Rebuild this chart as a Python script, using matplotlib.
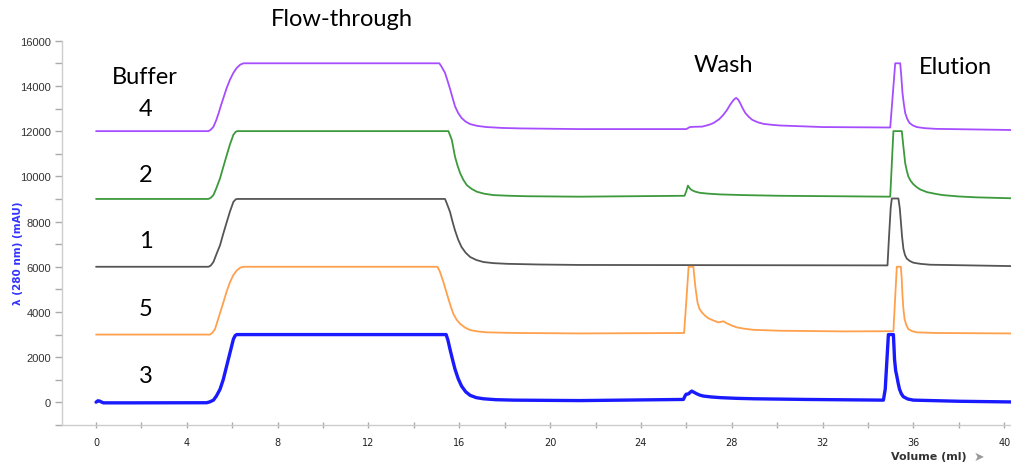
import matplotlib
matplotlib.use("Agg")
import matplotlib.pyplot as plt
from matplotlib.ticker import MultipleLocator

# ---------------- data ----------------
# Buffer 4 (purple, offset 12000)
x4 = [0, 4.95, 5.05, 5.17, 5.3, 5.4, 5.5, 5.61, 5.75, 5.9, 6.05, 6.2, 6.35, 6.49,
      15.12, 15.2, 15.37, 15.5, 15.6, 15.7, 15.81, 15.95, 16.1, 16.28, 16.48, 16.8, 17.2,
      17.9, 18.7, 21.3, 26.0, 26.15, 26.3, 26.7, 27.0, 27.2, 27.45, 27.63, 27.8, 27.93,
      28.08, 28.19, 28.28, 28.37, 28.48, 28.6, 28.75, 28.9, 29.15, 29.4, 29.75, 30.1,
      32.0, 34.98, 35.2, 35.42, 35.47, 35.52, 35.58, 35.64, 35.73, 35.83, 35.98, 36.15,
      36.5, 37.0, 40.3]
y4 = [12000, 12000, 12060, 12190, 12500, 12800, 13130, 13470, 13900, 14280, 14580, 14800,
      14940, 15000, 15000, 14880, 14580, 14170, 13840, 13480, 13100, 12800, 12580, 12420,
      12310, 12230, 12180, 12140, 12120, 12090, 12090, 12180, 12190, 12200, 12280, 12360,
      12530, 12720, 12950, 13170, 13380, 13470, 13400, 13240, 13010, 12800, 12630, 12500,
      12390, 12320, 12280, 12250, 12180, 12160, 15000, 15000, 14400, 13690, 13200, 12800,
      12540, 12360, 12250, 12180, 12130, 12100, 12050]

# Buffer 2 (green, offset 9000)
x2 = [0, 4.95, 5.05, 5.17, 5.3, 5.46, 5.6, 5.76, 5.9, 6.05, 6.15, 6.22, 15.52, 15.58,
      15.67, 15.74, 15.81, 15.92, 16.04, 16.18, 16.33, 16.55, 16.77, 17.1, 17.5, 18.2,
      18.97, 21.3, 25.92, 26.0, 26.07, 26.15, 26.24, 26.4, 26.6, 27.0, 27.5, 28.5, 30.1,
      34.98, 35.12, 35.49, 35.56, 35.64, 35.71, 35.78, 35.88, 36.0, 36.15, 36.3, 36.6,
      37.0, 37.3, 38.0, 38.8, 40.3]
y2 = [9000, 9000, 9050, 9170, 9480, 9910, 10400, 10950, 11420, 11840, 11970, 12000, 12000,
      11850, 11610, 11240, 10870, 10480, 10130, 9840, 9610, 9440, 9320, 9230, 9170, 9140,
      9120, 9100, 9140, 9350, 9590, 9470, 9390, 9320, 9270, 9230, 9200, 9170, 9140, 9100,
      12000, 12000, 11320, 10580, 10250, 9990, 9800, 9650, 9520, 9420, 9300, 9220, 9170,
      9110, 9070, 9030]

# Buffer 1 (grey, offset 6000)
x1 = [0, 4.95, 5.05, 5.17, 5.3, 5.46, 5.6, 5.76, 5.9, 6.05, 6.15, 6.22, 15.37, 15.45,
      15.59, 15.7, 15.81, 15.95, 16.1, 16.28, 16.48, 16.75, 17.06, 17.5, 18.1, 19.5, 21.3,
      34.86, 34.92, 35.0, 35.05, 35.34, 35.4, 35.45, 35.5, 35.56, 35.63, 35.71, 35.85,
      36.0, 36.3, 36.74, 40.3]
y1 = [6000, 6000, 6050, 6210, 6550, 6950, 7450, 7990, 8450, 8870, 8980, 9000, 9000, 8800,
      8430, 8000, 7610, 7200, 6870, 6620, 6430, 6300, 6210, 6160, 6130, 6100, 6080, 6060,
      7200, 8600, 9020, 9020, 8600, 7990, 7350, 6800, 6520, 6360, 6250, 6180, 6130, 6090,
      6030]

# Buffer 5 (orange, offset 3000)
x5 = [0, 5.02, 5.12, 5.24, 5.4, 5.61, 5.75, 5.9, 6.05, 6.2, 6.35, 6.49, 15.04, 15.15,
      15.3, 15.41, 15.52, 15.63, 15.74, 15.88, 16.04, 16.25, 16.48, 16.8, 17.2, 18.0,
      18.68, 21.3, 25.9, 26.0, 26.1, 26.31, 26.39, 26.49, 26.57, 26.68, 26.82, 26.97,
      27.2, 27.41, 27.55, 27.63, 27.78, 28.0, 28.22, 28.55, 28.96, 29.5, 30.13, 33.0,
      35.12, 35.27, 35.45, 35.49, 35.52, 35.56, 35.61, 35.69, 35.78, 35.95, 36.15, 37.0,
      40.3]
y5 = [3000, 3000, 3080, 3240, 3760, 4430, 4900, 5320, 5640, 5840, 5960, 6000, 6000, 5770,
      5320, 4950, 4580, 4220, 3910, 3660, 3470, 3310, 3200, 3140, 3100, 3080, 3070, 3050,
      3070, 4500, 6000, 6000, 5170, 4430, 4150, 3990, 3840, 3720, 3620, 3540, 3570, 3590,
      3500, 3400, 3320, 3260, 3210, 3190, 3170, 3140, 3150, 6000, 6000, 5400, 4720, 4150,
      3690, 3420, 3240, 3150, 3100, 3070, 3050]

# Buffer 3 (blue, offset 0)
x3 = [0, 0.08, 0.15, 0.32, 1.5, 4.87, 5.0, 5.17, 5.3, 5.46, 5.6, 5.7, 5.9, 6.05, 6.13,
      6.2, 15.42, 15.5, 15.59, 15.7, 15.81, 15.95, 16.1, 16.28, 16.48, 16.75, 17.06, 17.6,
      18.4, 21.3, 25.87, 25.95, 25.99, 26.1, 26.17, 26.24, 26.35, 26.46, 26.6, 26.75,
      27.1, 27.5, 28.2, 28.96, 31.3, 34.68, 34.76, 34.83, 34.9, 35.12, 35.15, 35.17,
      35.22, 35.27, 35.33, 35.39, 35.47, 35.56, 35.75, 36.0, 38.0, 40.3]
y3 = [10, 70, 60, -20, -20, -15, 20, 100, 280, 580, 1000, 1400, 2200, 2800, 2960, 3000,
      3000, 2750, 2350, 1900, 1470, 1050, 720, 470, 310, 210, 160, 120, 100, 80, 130, 300,
      360, 380, 450, 500, 440, 380, 320, 280, 240, 210, 180, 160, 130, 100, 580, 1800,
      3000, 3000, 2360, 1900, 1400, 1170, 850, 580, 380, 250, 150, 100, 50, 20]

buffer_labels = ["4", "2", "1", "5", "3"]
x_ticks = list(range(0, 41, 4))
y_ticks = list(range(0, 16001, 2000))

# ---------------- figure ----------------
W, H = 1012, 464
fig = plt.figure(figsize=(W / 100, H / 100), dpi=100)
ax = fig.add_axes([62 / W, 38 / H, (1011 - 62) / W, (426 - 41.7) / H])
ax.set_xlim(-1.5, 40.3)
ax.set_ylim(-1000, 16000)

kw = dict(solid_joinstyle="round", solid_capstyle="round")
ax.plot(x4, y4, color="#a64dff", lw=1.3, **kw)
ax.plot(x2, y2, color="#3c9a3c", lw=1.3, **kw)
ax.plot(x1, y1, color="#555555", lw=1.3, **kw)
ax.plot(x5, y5, color="#ffa04d", lw=1.3, **kw)
ax.plot(x3, y3, color="#1a1aff", lw=2.4, **kw)

for s in ["top", "right"]:
    ax.spines[s].set_visible(False)
for s in ["left", "bottom"]:
    ax.spines[s].set_color("#cccccc")
    ax.spines[s].set_linewidth(1.0)

ax.set_xticks(x_ticks)
ax.xaxis.set_minor_locator(MultipleLocator(2))
ax.set_yticks(y_ticks)
ax.yaxis.set_minor_locator(MultipleLocator(1000))
ax.tick_params(axis="x", which="both", direction="inout", length=5, width=1,
               color="#aaaaaa", labelsize=7, labelcolor="#222222", pad=6)
ax.tick_params(axis="y", which="both", direction="out", length=5, width=1,
               color="#aaaaaa", labelsize=8, labelcolor="#333333", pad=3)
for lab in ax.get_xticklabels():
    lab.set_family("DejaVu Sans")
for lab in ax.get_yticklabels():
    lab.set_family("Liberation Sans")

# axis titles
fig.text(18 / W, 1 - 253 / H, "λ (280 nm) (mAU)", rotation=90, color="#3333ff",
         fontsize=7.5, fontweight="bold", family="DejaVu Sans", ha="center", va="center")
fig.text(929 / W, 1 - 457 / H, "Volume (ml)", color="#333333", fontsize=8,
         fontweight="bold", family="DejaVu Sans", ha="center", va="center")
fig.text(979 / W, 1 - 457 / H, "➤", color="#999999", fontsize=9,
         family="DejaVu Sans", ha="center", va="center")

# annotations
ann_font = "Lato"
ann_size = 17
fig.text(342 / W, 1 - 19 / H, "Flow-through", fontsize=ann_size, family=ann_font,
         ha="center", va="center", color="black")
fig.text(145 / W, 1 - 78 / H, "Buffer", fontsize=ann_size, family=ann_font,
         ha="center", va="center", color="black")
fig.text(723 / W, 1 - 65 / H, "Wash", fontsize=ann_size, family=ann_font,
         ha="center", va="center", color="black")
fig.text(955 / W, 1 - 67 / H, "Elution", fontsize=ann_size, family=ann_font,
         ha="center", va="center", color="black")
for lab, py in zip(buffer_labels, [110, 175, 242, 310, 377]):
    fig.text(146 / W, 1 - py / H, lab, fontsize=ann_size, family=ann_font,
             ha="center", va="center", color="black")

fig.savefig("out.png", dpi=100)
